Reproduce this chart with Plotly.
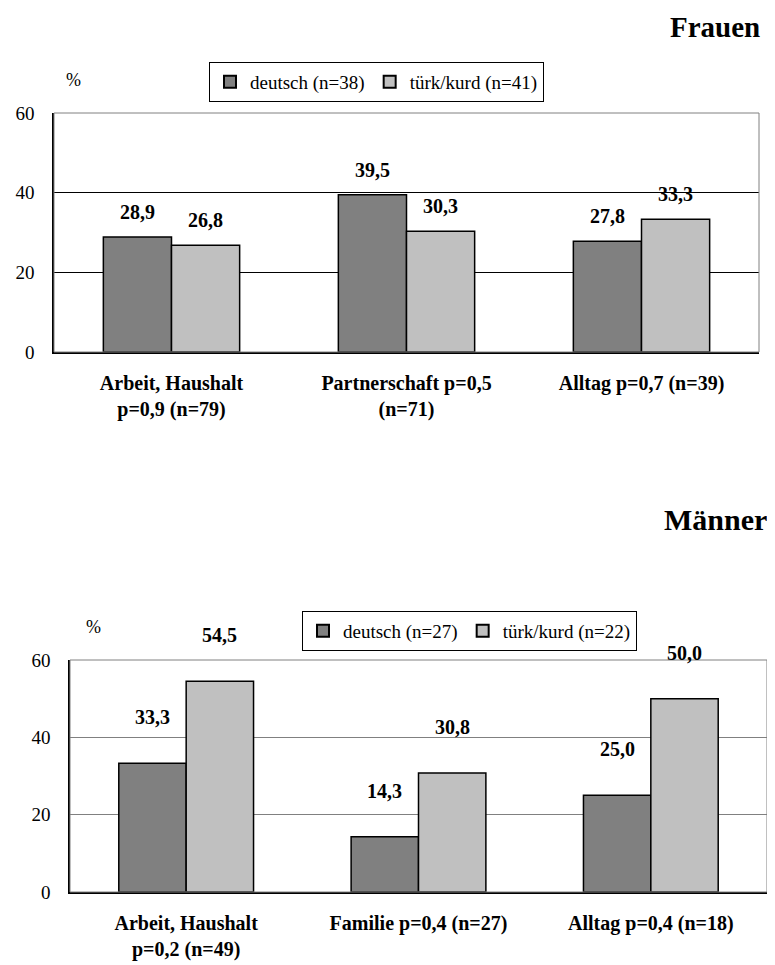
import plotly.graph_objects as go

# ---- data ----
cats_f = ["Arbeit, Haushalt<br>p=0,9 (n=79)", "Partnerschaft p=0,5<br>(n=71)", "Alltag p=0,7 (n=39)"]
deutsch_f = [28.9, 39.5, 27.8]
tuerk_f = [26.8, 30.3, 33.3]
name_deutsch_f = "deutsch (n=38)"
name_tuerk_f = "türk/kurd (n=41)"

cats_m = ["Arbeit, Haushalt<br>p=0,2 (n=49)", "Familie p=0,4 (n=27)", "Alltag p=0,4 (n=18)"]
deutsch_m = [33.3, 14.3, 25.0]
tuerk_m = [54.5, 30.8, 50.0]
name_deutsch_m = "deutsch (n=27)"
name_tuerk_m = "türk/kurd (n=22)"

y_ticks = [0, 20, 40, 60]

# ---- style ----
FONT = "Liberation Serif"
C_DARK = "#808080"
C_LIGHT = "#C0C0C0"
W, H = 775, 965
OFF = 8  # page body margin
BARGAP = 0.42

def px(x):
    return (x - OFF) / W

def py(y):
    return 1 - (y - OFF) / H

fig = go.Figure()

def add_bars(cats, d, t, nd, nt, xa, ya, leg):
    fig.add_trace(go.Bar(x=cats, y=d, name=nd, marker=dict(color=C_DARK, line=dict(color="black", width=1.5)),
                         xaxis=xa, yaxis=ya, legend=leg))
    fig.add_trace(go.Bar(x=cats, y=t, name=nt, marker=dict(color=C_LIGHT, line=dict(color="black", width=1.5)),
                         xaxis=xa, yaxis=ya, legend=leg))

add_bars(cats_f, deutsch_f, tuerk_f, name_deutsch_f, name_tuerk_f, "x", "y", "legend")
add_bars(cats_m, deutsch_m, tuerk_m, name_deutsch_m, name_tuerk_m, "x2", "y2", "legend2")

annotations = []
half = (1 - BARGAP) / 4

def fmt(v):
    return f"{v:.1f}".replace(".", ",")

def add_labels(d, t, xa, ya, shift):
    for i, (a, b) in enumerate(zip(d, t)):
        for v, off in ((a, -half), (b, half)):
            annotations.append(dict(x=i + off, y=v, xref=xa, yref=ya, text="<b>" + fmt(v) + "</b>", showarrow=False,
                                    yshift=shift, font=dict(family=FONT, size=20, color="black")))

add_labels(deutsch_f, tuerk_f, "x", "y", 25)
add_labels(deutsch_m, tuerk_m, "x2", "y2", 46)

annotations += [
    dict(x=px(762), y=py(27), xref="paper", yref="paper", text="<b>Frauen</b>", showarrow=False,
         xanchor="right", yanchor="middle", font=dict(family=FONT, size=29, color="black")),
    dict(x=px(769), y=py(519), xref="paper", yref="paper", text="<b>Männer</b>", showarrow=False,
         xanchor="right", yanchor="middle", font=dict(family=FONT, size=30, color="black")),
    dict(x=px(73), y=py(80), xref="paper", yref="paper", text="%", showarrow=False,
         xanchor="center", yanchor="middle", font=dict(family=FONT, size=18, color="black")),
    dict(x=px(93), y=py(627), xref="paper", yref="paper", text="%", showarrow=False,
         xanchor="center", yanchor="middle", font=dict(family=FONT, size=18, color="black")),
]

shapes = [
    dict(type="rect", xref="x domain", yref="y domain", x0=0, x1=1, y0=0, y1=1,
         line=dict(color="#808080", width=1)),
    dict(type="rect", xref="x2 domain", yref="y2 domain", x0=0, x1=1, y0=0, y1=1,
         line=dict(color="#808080", width=1)),
]

xcommon = dict(type="category", showgrid=False, showline=True, linecolor="black", linewidth=1.5,
               ticks="", ticklabelstandoff=12, automargin=False,
               tickfont=dict(family=FONT, size=20, color="black", weight="bold"))
ycommon = dict(range=[0, 60], tickvals=y_ticks, showline=True, linecolor="black", linewidth=1.5,
               ticks="", ticklabelstandoff=14, zeroline=False, automargin=False,
               tickfont=dict(family=FONT, size=19, color="black"))

legcommon = dict(orientation="h", xanchor="left", yanchor="top", bordercolor="black", borderwidth=1,
                 bgcolor="white", font=dict(family=FONT, size=19, color="black"),
                 itemwidth=30, tracegroupgap=0, itemsizing="constant")

fig.update_layout(
    template="none",
    font=dict(family=FONT, color="black"),
    width=W, height=H, margin=dict(l=0, r=0, t=0, b=0, pad=0, autoexpand=False),
    paper_bgcolor="white", plot_bgcolor="white",
    barmode="group", bargap=BARGAP, bargroupgap=0,
    showlegend=True,
    xaxis=dict(domain=[px(54), px(759)], anchor="y", **xcommon),
    yaxis=dict(domain=[py(352), py(113)], anchor="x", showgrid=True, gridcolor="black", gridwidth=1, **ycommon),
    xaxis2=dict(domain=[px(70), px(767)], anchor="y2", **xcommon),
    yaxis2=dict(domain=[py(892), py(660)], anchor="x2", showgrid=True, gridcolor="#808080", gridwidth=1, **ycommon),
    legend=dict(x=px(209), y=py(62), **legcommon),
    legend2=dict(x=px(302), y=py(611), **legcommon),
    annotations=annotations,
    shapes=shapes,
)

fig.write_html("out.html")
